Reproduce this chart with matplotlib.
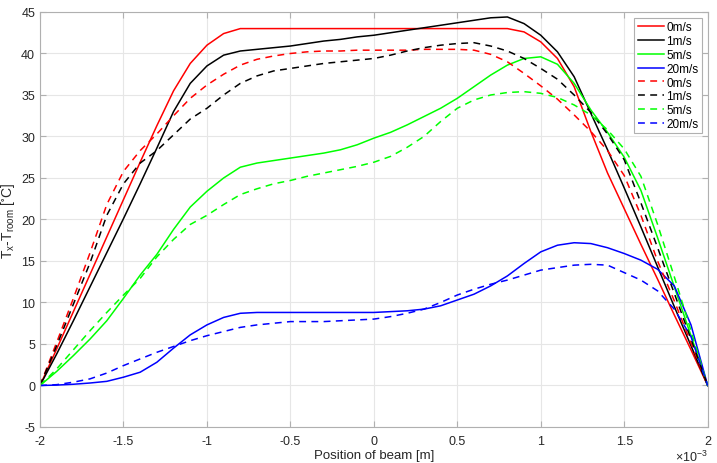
import numpy as np
import matplotlib
matplotlib.use("Agg")
import matplotlib.pyplot as plt
from matplotlib.ticker import FuncFormatter, MultipleLocator

plt.rcParams['font.family'] = ['Liberation Sans', 'DejaVu Sans']
plt.rcParams['mathtext.default'] = 'regular'
plt.rcParams['axes.unicode_minus'] = False

# Position of beam in mm (shown on a x10^-3 m axis)
pos_mm = [-2.0, -1.9, -1.8, -1.7, -1.6, -1.5, -1.4, -1.3, -1.2, -1.1, -1.0,
          -0.9, -0.8, -0.7, -0.6, -0.5, -0.4, -0.3, -0.2, -0.1, 0.0,
          0.1, 0.2, 0.3, 0.4, 0.5, 0.6, 0.7, 0.8, 0.9, 1.0,
          1.1, 1.2, 1.3, 1.4, 1.5, 1.6, 1.7, 1.8, 1.9, 2.0]

# solid lines
v0 = [0, 4.4, 8.9, 13.4, 17.9, 22.4, 26.9, 31.3, 35.5, 38.8, 41.0,
      42.4, 43.0, 43.0, 43.0, 43.0, 43.0, 43.0, 43.0, 43.0, 43.0,
      43.0, 43.0, 43.0, 43.0, 43.0, 43.0, 43.0, 43.0, 42.6, 41.4,
      39.4, 36.0, 30.6, 25.6, 21.3, 17.0, 12.8, 8.5, 4.3, 0]
v1 = [0, 3.8, 7.8, 11.9, 16.0, 20.1, 24.3, 28.6, 33.0, 36.4, 38.5,
      39.8, 40.3, 40.5, 40.7, 40.9, 41.2, 41.5, 41.7, 42.0, 42.2,
      42.5, 42.8, 43.1, 43.4, 43.7, 44.0, 44.3, 44.4, 43.6, 42.2,
      40.2, 37.2, 32.8, 28.4, 23.8, 19.1, 14.3, 9.5, 4.8, 0]
v5 = [0, 1.7, 3.6, 5.6, 7.8, 10.5, 13.3, 15.8, 18.8, 21.5, 23.4,
      25.0, 26.3, 26.8, 27.1, 27.4, 27.7, 28.0, 28.4, 29.0, 29.8,
      30.5, 31.4, 32.4, 33.4, 34.6, 36.0, 37.4, 38.6, 39.4, 39.6,
      38.7, 36.4, 33.2, 30.5, 27.5, 23.5, 17.8, 11.9, 6.0, 0]
v20 = [0, 0.05, 0.15, 0.3, 0.5, 1.0, 1.6, 2.8, 4.5, 6.1, 7.3,
       8.2, 8.7, 8.8, 8.8, 8.8, 8.8, 8.8, 8.8, 8.8, 8.8,
       8.9, 9.0, 9.2, 9.6, 10.3, 11.0, 12.0, 13.2, 14.7, 16.1,
       16.9, 17.2, 17.1, 16.6, 15.9, 15.1, 14.0, 12.0, 7.3, 0]

# dashed lines
d0 = [0, 5.2, 10.5, 16.0, 21.8, 25.8, 28.3, 30.3, 32.5, 34.6, 36.2,
      37.5, 38.6, 39.3, 39.7, 40.0, 40.2, 40.3, 40.3, 40.4, 40.4,
      40.4, 40.4, 40.5, 40.5, 40.5, 40.4, 39.9, 39.0, 37.6, 36.1,
      34.5, 32.6, 30.6, 28.3, 25.3, 20.5, 15.0, 10.2, 5.1, 0]
d1 = [0, 4.8, 9.8, 14.8, 20.5, 24.3, 26.8, 28.3, 30.2, 32.1, 33.4,
      35.0, 36.4, 37.3, 37.9, 38.2, 38.5, 38.8, 39.0, 39.2, 39.4,
      39.8, 40.3, 40.7, 41.0, 41.2, 41.3, 40.9, 40.3, 39.4, 38.2,
      36.9, 35.0, 32.9, 30.3, 27.2, 22.0, 16.6, 11.1, 5.6, 0]
d5 = [0, 2.0, 4.3, 6.6, 8.8, 10.9, 12.9, 15.5, 17.6, 19.4, 20.5,
      21.8, 23.0, 23.7, 24.3, 24.7, 25.2, 25.6, 26.0, 26.4, 26.9,
      27.6, 28.7, 30.0, 31.8, 33.4, 34.4, 35.0, 35.3, 35.4, 35.2,
      34.7, 33.8, 32.6, 30.8, 28.5, 25.2, 19.4, 13.1, 6.6, 0]
d20 = [0, 0.1, 0.4, 0.8, 1.5, 2.4, 3.2, 4.0, 4.7, 5.4, 6.0,
       6.5, 7.0, 7.3, 7.5, 7.7, 7.7, 7.7, 7.8, 7.9, 8.0,
       8.3, 8.7, 9.2, 10.0, 10.9, 11.6, 12.2, 12.7, 13.3, 13.9,
       14.2, 14.5, 14.6, 14.5, 13.6, 12.7, 11.4, 9.2, 5.9, 0]

labels = ['0m/s', '1m/s', '5m/s', '20m/s']
colors = ['#ff0000', '#000000', '#00ff00', '#0000ff']

x = np.array(pos_mm) * 1e-3

fig = plt.figure(figsize=(7.17, 4.64), dpi=100)
ax = fig.add_axes([0.0558, 0.0776, 0.9312, 0.8944])

for y, c, lab in zip([v0, v1, v5, v20], colors, labels):
    ax.plot(x, y, color=c, lw=1.1, label=lab)
for y, c, lab in zip([d0, d1, d5, d20], colors, labels):
    ax.plot(x, y, color=c, lw=1.1, ls=(0, (4.5, 3.5)), label=lab)

ax.set_xlim(-2e-3, 2e-3)
ax.set_ylim(-5, 45)
ax.xaxis.set_major_locator(MultipleLocator(0.5e-3))
ax.yaxis.set_major_locator(MultipleLocator(5))
ax.xaxis.set_major_formatter(FuncFormatter(lambda v, p: '%g' % round(v * 1e3, 6)))
ax.text(1.0, -0.07, r'$\times10^{-3}$', transform=ax.transAxes,
        ha='right', va='center', fontsize=9, color='#262626')

ax.grid(True, color='#e6e6e6', lw=0.8)
ax.set_axisbelow(True)
for s in ax.spines.values():
    s.set_color('#b0b0b0')
    s.set_linewidth(0.8)
ax.tick_params(direction='in', length=4, width=0.8, color='#b0b0b0',
               labelcolor='#262626', labelsize=9, top=True, right=True)
ax.tick_params(axis='x', pad=6)

ax.set_xlabel('Position of beam [m]', fontsize=9.5, color='#262626', labelpad=1)
ax.set_ylabel(r'T$_x$-T$_{room}$ [$^{\circ}$C]', fontsize=10, color='#262626', labelpad=3)

leg = ax.legend(loc='upper right', fontsize=8.5, handlelength=2.2,
                handletextpad=0.2, labelspacing=0.15, borderpad=0.3,
                borderaxespad=0.5, fancybox=False, framealpha=1)
leg.get_frame().set_edgecolor('#b0b0b0')
leg.get_frame().set_linewidth(0.8)

fig.savefig('out.png', dpi=100)
